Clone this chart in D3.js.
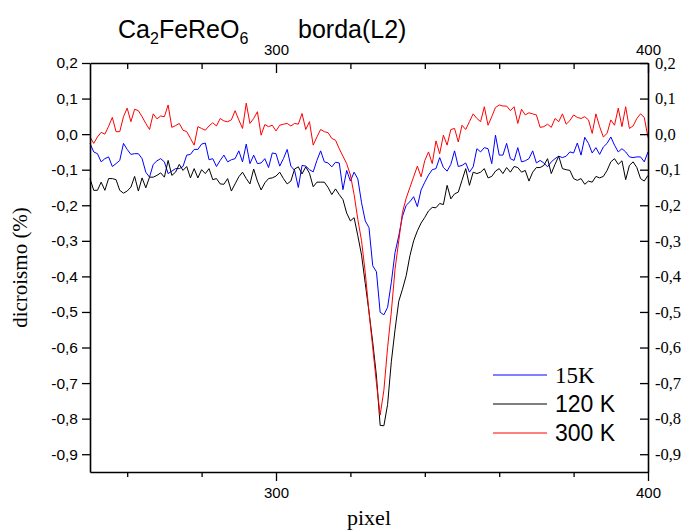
<!DOCTYPE html>
<html>
<head>
<meta charset="utf-8">
<script src="https://cdn.jsdelivr.net/npm/d3@7"></script>
<style>
  body { margin: 0; background: #fff; }
</style>
</head>
<body>
<div id="canvas"></div>
<script>
"use strict"

/* drawing size */
let svgWidth = 685;
let svgHeight = 531;
/* plot box */
let leftMargin = 90
let rightMargin = 37
let topMargin = 63
let bottomMargin = 59

/* pixel index of the first point, one point per pixel */
let firstPixel = 250;

/* dicroismo (%) for each pixel, 250 .. 400 */
let k15 = [
    -0.026, -0.050, -0.055, -0.078, -0.069, -0.064, -0.091, -0.083, -0.074, -0.026,
    -0.043, -0.057, -0.055, -0.055, -0.069, -0.107, -0.121, -0.085, -0.075, -0.069,
    -0.078, -0.111, -0.104, -0.097, -0.097, -0.091, -0.059, -0.057, -0.043, -0.043,
    -0.028, -0.025, -0.072, -0.069, -0.091, -0.074, -0.059, -0.078, -0.072, -0.069,
    -0.047, -0.078, -0.028, -0.083, -0.059, -0.083, -0.081, -0.069, -0.094, -0.053,
    -0.055, -0.090, -0.069, -0.043, -0.090, -0.102, -0.150, -0.088, -0.090, -0.100,
    -0.106, -0.074, -0.047, -0.078, -0.081, -0.092, -0.079, -0.081, -0.156, -0.102,
    -0.132, -0.107, -0.126, -0.193, -0.244, -0.263, -0.370, -0.387, -0.501, -0.508,
    -0.487, -0.417, -0.333, -0.286, -0.231, -0.200, -0.190, -0.176, -0.204, -0.157,
    -0.135, -0.115, -0.100, -0.097, -0.066, -0.094, -0.104, -0.085, -0.047, -0.091,
    -0.088, -0.081, -0.107, -0.092, -0.041, -0.050, -0.038, -0.041, -0.083, -0.003,
    -0.059, -0.059, -0.026, -0.069, -0.074, -0.038, -0.078, -0.075, -0.069, -0.047,
    -0.081, -0.074, -0.081, -0.092, -0.078, -0.069, -0.062, -0.066, -0.062, -0.050,
    -0.053, -0.025, -0.059, -0.009, -0.026, -0.053, -0.038, -0.057, -0.036, -0.026,
    -0.008, -0.031, -0.050, -0.041, -0.050, -0.064, -0.066, -0.064, -0.064, -0.078,
    -0.050
];

let k120 = [
    -0.125, -0.158, -0.158, -0.135, -0.158, -0.125, -0.125, -0.128, -0.158, -0.166,
    -0.160, -0.149, -0.119, -0.160, -0.123, -0.151, -0.121, -0.121, -0.116, -0.109,
    -0.121, -0.074, -0.116, -0.107, -0.085, -0.102, -0.091, -0.123, -0.097, -0.123,
    -0.100, -0.111, -0.097, -0.128, -0.125, -0.140, -0.141, -0.125, -0.160, -0.140,
    -0.120, -0.107, -0.125, -0.140, -0.098, -0.132, -0.157, -0.137, -0.125, -0.123,
    -0.118, -0.107, -0.125, -0.140, -0.132, -0.098, -0.092, -0.112, -0.092, -0.110,
    -0.148, -0.135, -0.135, -0.135, -0.150, -0.170, -0.154, -0.170, -0.184, -0.222,
    -0.244, -0.235, -0.286, -0.340, -0.420, -0.500, -0.585, -0.680, -0.819, -0.820,
    -0.760, -0.640, -0.550, -0.470, -0.436, -0.398, -0.342, -0.300, -0.272, -0.250,
    -0.234, -0.216, -0.206, -0.207, -0.195, -0.198, -0.144, -0.182, -0.168, -0.163,
    -0.130, -0.097, -0.144, -0.107, -0.111, -0.107, -0.097, -0.123, -0.119, -0.104,
    -0.097, -0.111, -0.094, -0.107, -0.091, -0.094, -0.107, -0.102, -0.132, -0.107,
    -0.094, -0.094, -0.088, -0.069, -0.111, -0.085, -0.062, -0.097, -0.100, -0.102,
    -0.125, -0.130, -0.125, -0.141, -0.132, -0.135, -0.119, -0.123, -0.119, -0.102,
    -0.078, -0.069, -0.085, -0.075, -0.128, -0.088, -0.078, -0.094, -0.125, -0.132,
    -0.116
];

let k300 = [
    -0.008, -0.026, -0.008, 0.005, 0.000, 0.022, 0.047, 0.007, 0.007, 0.049,
    0.073, 0.035, 0.070, 0.066, 0.049, 0.030, 0.013, 0.057, 0.043, 0.051,
    0.049, 0.082, 0.019, 0.024, 0.030, 0.011, 0.007, -0.012, -0.031, 0.021,
    0.016, 0.011, 0.023, 0.032, 0.023, 0.044, 0.037, 0.035, 0.040, 0.066,
    0.040, 0.016, 0.087, 0.030, 0.044, 0.063, -0.003, 0.027, 0.021, 0.025,
    0.009, 0.025, 0.028, 0.030, 0.023, 0.030, 0.028, 0.058, 0.013, 0.035,
    -0.031, -0.008, 0.013, 0.007, 0.004, -0.012, -0.017, -0.041, -0.062, -0.083,
    -0.115, -0.170, -0.240, -0.300, -0.390, -0.500, -0.600, -0.700, -0.790, -0.720,
    -0.600, -0.500, -0.380, -0.300, -0.220, -0.180, -0.150, -0.120, -0.090, -0.120,
    -0.074, -0.050, -0.083, -0.019, -0.055, -0.003, -0.031, 0.013, 0.016, -0.022,
    0.025, 0.013, 0.035, 0.057, 0.044, 0.035, 0.077, 0.025, 0.049, 0.075,
    0.082, 0.079, 0.079, 0.066, 0.077, 0.030, 0.070, 0.054, 0.060, 0.057,
    0.054, 0.019, 0.021, 0.028, 0.019, 0.044, 0.035, 0.057, 0.028, 0.038,
    0.054, 0.047, 0.044, 0.049, 0.040, 0.002, 0.057, 0.021, -0.008, 0.002,
    0.040, 0.025, 0.073, 0.021, 0.077, 0.016, 0.023, 0.044, 0.057, 0.047,
    -0.010
];

let seriesNames = ["15K", "120 K", "300 K"];
let seriesColors = ["#0000ff", "#000000", "#ff0000"];

/* tick labels */
let xTicks = [260, 280, 300, 320, 340, 360, 380, 400];
let xLabelled = [300, 400];
let yTicks = [0.2, 0.1, 0.0, -0.1, -0.2, -0.3, -0.4, -0.5, -0.6, -0.7, -0.8, -0.9];

let sans = "'Liberation Sans', Arial, sans-serif";
let serif = "'Liberation Serif', 'Times New Roman', serif";

let svg = d3.select("#canvas")
    .append("svg")
    .attr("width", svgWidth)
    .attr("height", svgHeight);

svg.append("rect")
    .attr("width", svgWidth)
    .attr("height", svgHeight)
    .attr("fill", "white");

/* scales */
let xScale = d3.scaleLinear()
    .domain([250, 400])
    .range([leftMargin, svgWidth - rightMargin]);

let yScale = d3.scaleLinear()
    .domain([-0.95, 0.2])
    .range([svgHeight - bottomMargin, topMargin]);

/* decimal comma like the original */
let commaFormat = function (v) {
    return d3.format(".1f")(v).replace(".", ",").replace("\u2212", "-");
};

/* curves */
let allSeries = [k15, k120, k300];
let line = d3.line()
    .x(function (v, i) { return xScale(firstPixel + i); })
    .y(function (v) { return yScale(v); });

for (let s = 0; s < allSeries.length; s++) {
    svg.append("path")
        .datum(allSeries[s])
        .attr("fill", "none")
        .attr("stroke", seriesColors[s])
        .attr("stroke-width", 1)
        .attr("stroke-linejoin", "round")
        .attr("d", line);
}

/* axes */
let xLabel = function (d) { return xLabelled.includes(d) ? d : ""; };

let bottomAxis = svg.append("g")
    .attr("transform", `translate(0,${svgHeight - bottomMargin})`)
    .call(d3.axisBottom(xScale).tickValues(xTicks).tickFormat(xLabel)
        .tickSize(5).tickSizeOuter(0).tickPadding(10));

let topAxis = svg.append("g")
    .attr("transform", `translate(0,${topMargin})`)
    .call(d3.axisTop(xScale).tickValues(xTicks).tickFormat(xLabel)
        .tickSize(-6).tickSizeOuter(0).tickPadding(8));

let leftAxis = svg.append("g")
    .attr("transform", `translate(${leftMargin},0)`)
    .call(d3.axisLeft(yScale).tickValues(yTicks).tickFormat(commaFormat)
        .tickSize(8).tickSizeOuter(0).tickPadding(4));

let rightAxis = svg.append("g")
    .attr("transform", `translate(${svgWidth - rightMargin},0)`)
    .call(d3.axisRight(yScale).tickValues(yTicks).tickFormat(commaFormat)
        .tickSize(-8).tickSizeOuter(0).tickPadding(7));

/* longer ticks where there is a label */
bottomAxis.selectAll(".tick line")
    .attr("y2", function (d) { return xLabelled.includes(d) ? 9 : 5; });
topAxis.selectAll(".tick line")
    .attr("y2", function (d) { return xLabelled.includes(d) ? 10 : 6; });

svg.selectAll(".domain").attr("stroke-width", 1.6);
svg.selectAll(".tick line").attr("stroke-width", 1.3);

bottomAxis.selectAll("text").style("font-family", sans).style("font-size", "15px");
topAxis.selectAll("text").style("font-family", sans).style("font-size", "15px");
leftAxis.selectAll("text").style("font-family", sans).style("font-size", "15.5px");
rightAxis.selectAll("text").style("font-family", serif).style("font-size", "16.5px");

/* axis titles */
svg.append("text")
    .attr("x", (leftMargin + svgWidth - rightMargin) / 2)
    .attr("y", svgHeight - 6)
    .attr("text-anchor", "middle")
    .style("font-family", serif)
    .style("font-size", "22px")
    .text("pixel");

svg.append("text")
    .attr("transform", `translate(27,${(topMargin + svgHeight - bottomMargin) / 2}) rotate(-90)`)
    .attr("text-anchor", "middle")
    .style("font-family", serif)
    .style("font-size", "21px")
    .text("dicroismo (%)");

/* title with subscripts */
let title = svg.append("text")
    .attr("x", 118)
    .attr("y", 38)
    .style("font-family", sans)
    .style("font-size", "25px");
title.append("tspan").text("Ca");
title.append("tspan").attr("dy", 6).style("font-size", "16px").text("2");
title.append("tspan").attr("dy", -6).text("FeReO");
title.append("tspan").attr("dy", 6).style("font-size", "16px").text("6");

svg.append("text")
    .attr("x", 298)
    .attr("y", 38)
    .style("font-family", sans)
    .style("font-size", "25px")
    .text("borda(L2)");

/* legend */
let legendFonts = [serif, sans, sans];
let legendY = [375, 404, 433];
for (let i = 0; i < seriesNames.length; i++) {
    svg.append("line")
        .attr("x1", 493)
        .attr("x2", 547)
        .attr("y1", legendY[i])
        .attr("y2", legendY[i])
        .attr("stroke", seriesColors[i])
        .attr("stroke-width", 1);

    svg.append("text")
        .attr("x", 555)
        .attr("y", legendY[i] + 8)
        .style("font-family", legendFonts[i])
        .style("font-size", "23px")
        .text(seriesNames[i]);
}
</script>
</body>
</html>
